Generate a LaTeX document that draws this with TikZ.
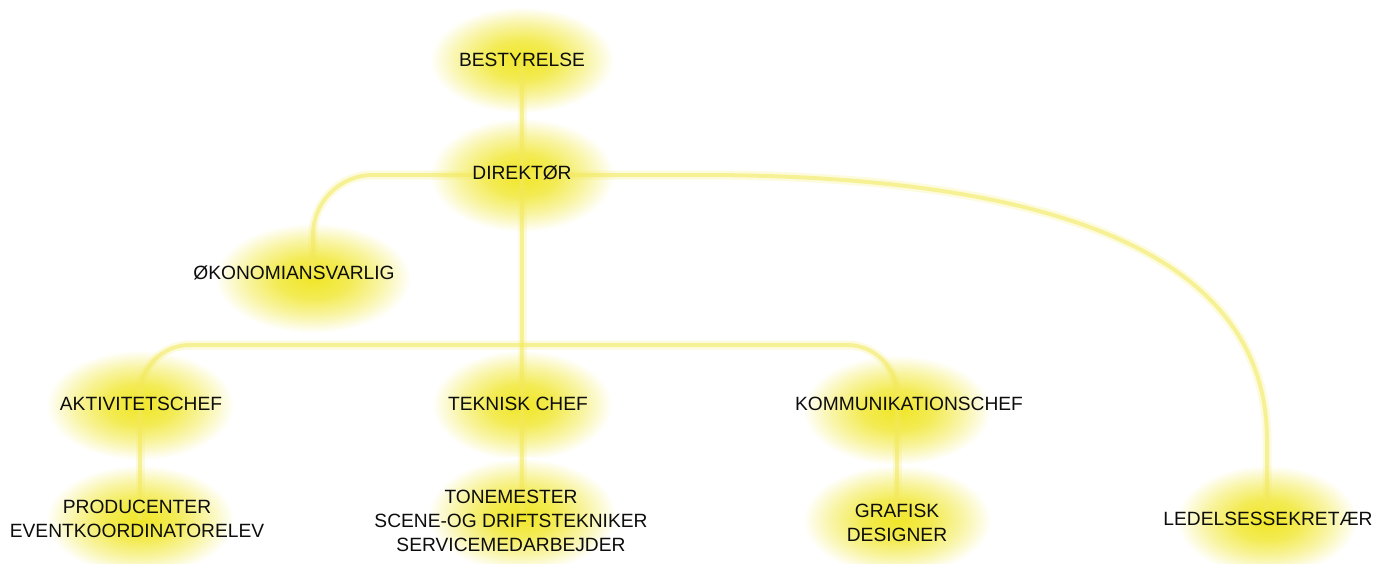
\documentclass[tikz,border=0pt]{standalone}
\usepackage{fontspec}
\setmainfont{Liberation Sans}
\usetikzlibrary{calc, positioning}
\definecolor{gul}{RGB}{240,230,40}
\colorlet{gulmid}{gul!80!white}
\colorlet{gullys}{gul!42!white}
\definecolor{stregfarve}{RGB}{243,233,90}
\pgfdeclareradialshading{gloed}{\pgfpoint{0bp}{0bp}}{color(0bp)=(gul); color(9bp)=(gulmid); color(17bp)=(gullys); color(24.5bp)=(white); color(50bp)=(white)}
\pgfdeclarelayer{bag}
\pgfsetlayers{bag,main}
\tikzset{
    titel/.style={font=\fontsize{19.2}{24}\selectfont, text=black!95, align=center, inner sep=0pt},
    lys/.style={shading=gloed},
    streg/.style={draw=stregfarve, line width=4pt, opacity=0.55, preaction={draw=stregfarve, line width=9pt, opacity=0.2}},
}

\begin{document}
\begin{tikzpicture}[x=1pt, y=-1pt]
\useasboundingbox (0,0) rectangle (1384,563);
% ledelse
\node[titel] (bestyrelse) at (522,60) {BESTYRELSE};
\node[titel] (direktor) at (522,173) {DIREKTØR};
\node[titel] (okonomi) at (294,273) {ØKONOMIANSVARLIG};
% chefer
\node[titel] (aktiv) at (141,404) {AKTIVITETSCHEF};
\node[titel] (teknisk) at (518,404) {TEKNISK CHEF};
\node[titel] (komm) at (909,404) {KOMMUNIKATIONSCHEF};
% medarbejdere
\node[titel] (producent) at (137,519) {PRODUCENTER\\EVENTKOORDINATORELEV};
\node[titel] (tonemester) at (511,521) {TONEMESTER\\SCENE-OG DRIFTSTEKNIKER\\SERVICEMEDARBEJDER};
\node[titel] (grafisk) at (897,523) {GRAFISK\\DESIGNER};
\node[titel] (ledelse) at (1268,519) {LEDELSESSEKRETÆR};
% lyspunkter
\coordinate (bestyrelse-lys) at (522,60);
\coordinate (direktor-lys) at (522,175);
\coordinate (okonomi-lys) at (313,278);
\coordinate (aktiv-lys) at (140,405);
\coordinate (teknisk-lys) at (522,405);
\coordinate (komm-lys) at (897,410);
\coordinate (producent-lys) at (140,520);
\coordinate (tonemester-lys) at (522,515);
\coordinate (grafisk-lys) at (897,520);
\coordinate (ledelse-lys) at (1267,520);

\begin{pgfonlayer}{bag}
\foreach \n/\rx/\ry in {bestyrelse/94/54, direktor/94/58, okonomi/100/56, aktiv/96/56, teknisk/92/56, komm/96/56, producent/96/56, tonemester/96/58, grafisk/96/56, ledelse/92/56} {
    \shade[lys] (\n-lys) ellipse (\rx pt and \ry pt);
}
% forbindelser
\draw[streg] (bestyrelse-lys) -- (direktor-lys);
\draw[streg] (direktor-lys) -- (tonemester-lys);
\draw[streg, rounded corners=60pt] (direktor-lys) -| (okonomi-lys);
\draw[streg] (direktor-lys) -- (700,175) .. controls (1020,175) and (1267,240) .. (1267,440) -- (ledelse-lys);
\draw[streg, rounded corners=50pt] (aktiv-lys) |- (522,345) -| (komm-lys);
\draw[streg] (aktiv-lys) -- (producent-lys);
\draw[streg] (komm-lys) -- (grafisk-lys);
\end{pgfonlayer}
\end{tikzpicture}
\end{document}
